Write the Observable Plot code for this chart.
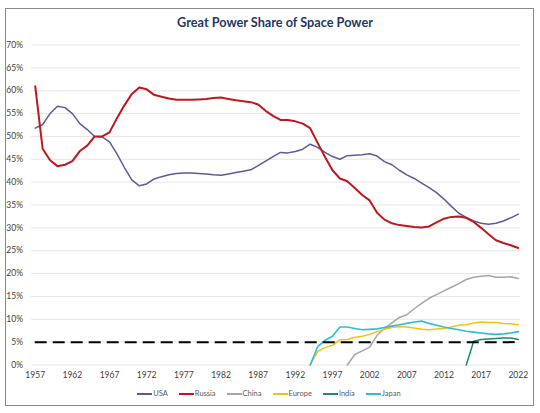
<!DOCTYPE html>
<html><head><meta charset="utf-8">
<script src="https://cdn.jsdelivr.net/npm/d3@7"></script>
<script src="https://cdn.jsdelivr.net/npm/@observablehq/plot@0.6"></script>
<style>
body{margin:0;background:#fff;font-family:Lato,"Open Sans",sans-serif;}
#wrap{position:relative;width:540px;height:413px;overflow:hidden;background:#fff;}
#frame{position:absolute;left:5px;top:8px;width:527px;height:396px;border:1.5px solid #8a8a8a;}
#title{position:absolute;left:0;width:550px;top:14px;text-align:center;font-weight:bold;font-size:12.7px;color:#1f3864;}
#chart{position:absolute;left:0;top:0;}
#legend{position:absolute;left:0;width:538px;top:389px;display:flex;justify-content:center;gap:11px;font-size:7.5px;color:#595959;}
.item{display:flex;align-items:center;gap:1px;}
.sw{width:15px;height:2px;display:inline-block;}
</style></head><body>
<div id="wrap"><div id="frame"></div><div id="title">Great Power Share of Space Power</div><div id="chart"></div><div id="legend"></div></div>
<script>
const years = [1957,1958,1959,1960,1961,1962,1963,1964,1965,1966,1967,1968,1969,1970,1971,1972,1973,1974,1975,1976,1977,1978,1979,1980,1981,1982,1983,1984,1985,1986,1987,1988,1989,1990,1991,1992,1993,1994,1995,1996,1997,1998,1999,2000,2001,2002,2003,2004,2005,2006,2007,2008,2009,2010,2011,2012,2013,2014,2015,2016,2017,2018,2019,2020,2021,2022];
const xTicks = [1957,1962,1967,1972,1977,1982,1987,1992,1997,2002,2007,2012,2017,2022];
const yTicks = [0,5,10,15,20,25,30,35,40,45,50,55,60,65,70];
const seriesNames = ["USA","Russia","China","Europe","India","Japan"];
const seriesColors = ["#5b5b9b","#c0171f","#a6a6a6","#f5c20f","#1e8c6a","#2bbde0"];
const seriesWidths = [1.5,2,1.5,1.5,1.5,1.6];
const threshold = 5;

// values in percent
const usa = [51.8,52.6,55.0,56.6,56.3,55.0,52.8,51.5,50.0,49.9,48.8,46.2,43.2,40.5,39.2,39.6,40.7,41.2,41.6,41.9,42.0,42.0,41.9,41.8,41.6,41.5,41.8,42.1,42.4,42.7,43.6,44.6,45.6,46.5,46.4,46.7,47.2,48.3,47.6,46.5,45.6,45.0,45.8,45.9,46.0,46.2,45.7,44.5,43.8,42.6,41.6,40.8,39.8,38.8,37.7,36.3,34.7,33.2,32.3,31.5,31.0,30.8,31.0,31.5,32.2,33.0];
const russia = [61.0,47.3,44.8,43.5,43.8,44.6,46.8,48.0,50.0,50.0,50.9,54.0,56.8,59.3,60.7,60.3,59.1,58.7,58.3,58.0,58.0,58.0,58.1,58.2,58.4,58.5,58.2,57.9,57.7,57.5,57.0,55.6,54.5,53.6,53.6,53.3,52.8,51.8,48.6,45.5,42.6,40.8,40.2,38.7,37.2,36.0,33.3,31.8,31.0,30.6,30.4,30.2,30.1,30.3,31.2,32.0,32.4,32.5,32.2,31.3,30.0,28.6,27.3,26.7,26.2,25.6];
const chinaStart = 1999;
const china = [0,2.3,3.1,3.9,6.5,8.0,9.2,10.4,11.0,12.3,13.5,14.6,15.4,16.2,17.0,17.8,18.7,19.2,19.4,19.6,19.2,19.2,19.3,18.9];
const europeStart = 1994;
const europe = [0,3.0,3.8,4.3,5.5,5.6,6.0,6.3,6.7,7.3,7.8,8.2,8.4,8.3,8.1,7.8,7.7,7.9,8.0,8.3,8.7,8.8,9.2,9.4,9.3,9.3,9.1,9.0,8.8];
const indiaStart = 2015;
const india = [0,5.2,5.6,5.7,5.8,5.9,5.9,5.6];
const japanStart = 1994;
const japan = [0,4.0,5.4,6.3,8.3,8.3,8.0,7.7,7.8,7.9,8.2,8.5,8.8,9.1,9.4,9.6,9.1,8.7,8.3,8.0,7.7,7.4,7.2,7.0,6.8,6.7,6.8,7.0,7.3];

const fromStart = (start, vals) => vals.map((v, i) => ({year: start + i, value: v}));
const seriesData = [
  years.map((y, i) => ({year: y, value: usa[i]})),
  years.map((y, i) => ({year: y, value: russia[i]})),
  fromStart(chinaStart, china),
  fromStart(europeStart, europe),
  fromStart(indiaStart, india),
  fromStart(japanStart, japan)
];

const chart = Plot.plot({
  width: 540, height: 385,
  marginLeft: 31, marginRight: 20, marginTop: 44.5, marginBottom: 20.5,
  style: {fontFamily: "Lato, 'Open Sans', sans-serif", fontSize: "8.5px", color: "#595959", background: "transparent", overflow: "visible"},
  x: {domain: [1956.5, 2022.3], label: null},
  y: {domain: [0, 70], label: null},
  marks: [
    Plot.ruleY(yTicks, {stroke: "#e0e0e0", strokeWidth: 0.8}),
    Plot.axisX({ticks: xTicks, tickFormat: d => String(d), tickSize: 0, tickPadding: 7, label: null, fill: "#404040"}),
    Plot.axisY({ticks: yTicks, tickFormat: d => d + "%", tickSize: 0, tickPadding: 8.5, label: null, fill: "#404040"}),
    ...seriesData.map((data, i) => Plot.line(data, {x: "year", y: "value", stroke: seriesColors[i], strokeWidth: seriesWidths[i], curve: "linear"})),
    Plot.ruleY([threshold], {x1: years[0], x2: years[years.length - 1], stroke: "#000", strokeWidth: 2, strokeDasharray: "12,6"})
  ]
});
document.getElementById("chart").appendChild(chart);

const legend = document.getElementById("legend");
seriesNames.forEach((name, i) => {
  const item = document.createElement("div");
  item.className = "item";
  const sw = document.createElement("span");
  sw.className = "sw";
  sw.style.background = seriesColors[i];
  const label = document.createElement("span");
  label.textContent = name;
  item.appendChild(sw);
  item.appendChild(label);
  legend.appendChild(item);
});
</script>
</body></html>
